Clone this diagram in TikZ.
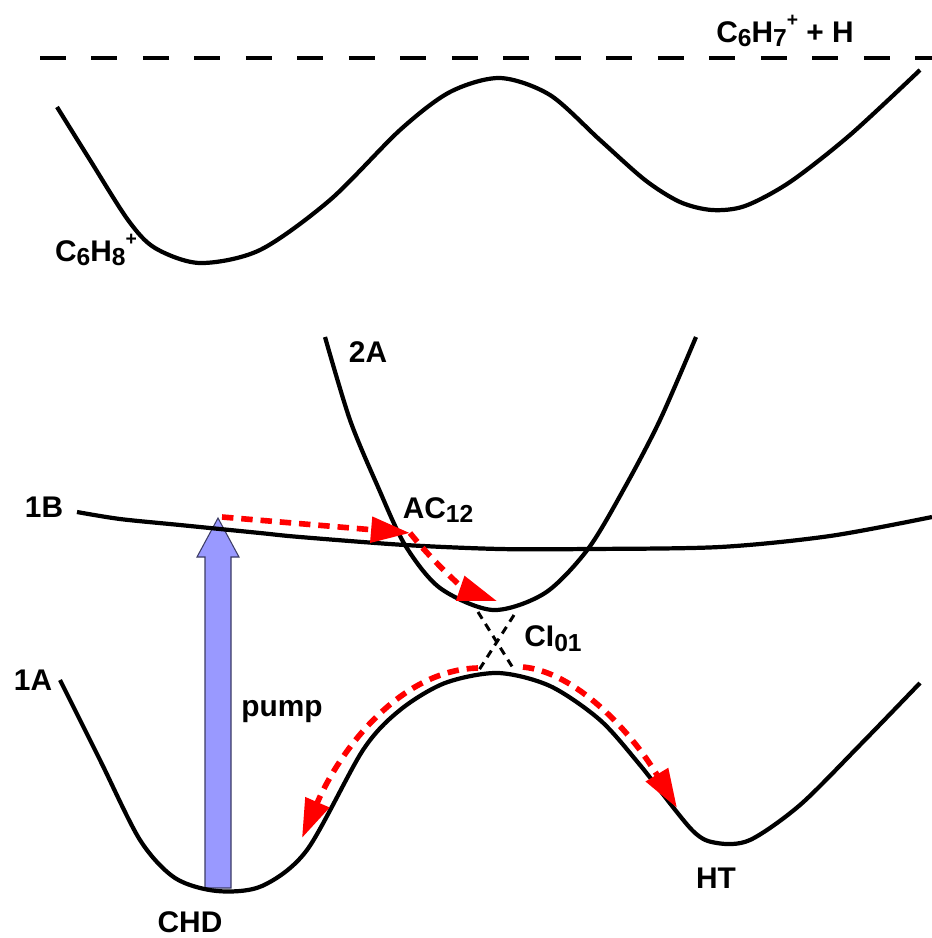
\documentclass[tikz,border=0pt]{standalone}
\usepackage{fontspec}
\setmainfont{Liberation Sans}
\usetikzlibrary{arrows.meta}
\definecolor{pumpblue}{RGB}{153,153,255}
\definecolor{pumpedge}{RGB}{60,60,100}
\newcommand{\lowr}[1]{\raisebox{-0.3ex}{\fontsize{14}{16}\selectfont #1}}
\newcommand{\upr}[1]{\raisebox{1.0ex}{\fontsize{11}{13}\selectfont #1}}

\begin{document}
\begin{tikzpicture}[
		x=0.02cm, y=-0.02cm,
		pes/.style={line width=2.4pt, line join=round},
		hop/.style={
				red,
				line width=3.2pt,
				dash pattern=on 6.5pt off 4.5pt,
				-{Triangle[length=0.78cm, width=0.5cm]}
			},
		cross/.style={line width=1.7pt, dash pattern=on 4.5pt off 3.5pt},
		lbl/.style={font=\fontsize{17}{20}\selectfont\bfseries, inner sep=0pt}
	]
	\useasboundingbox (0,0) rectangle (932,938);

	% pump arrow (under the curves)
	\filldraw[fill=pumpblue, draw=pumpedge, line width=0.6pt]
	(205,888) -- (205,557) -- (197,557) -- (218,518) -- (239,557) -- (231,557) -- (231,888) -- cycle;

	% ionisation limit
	\draw[line width=2.4pt, dash pattern=on 0.52cm off 0.51cm] (40,58) -- (932,58);

	% cation surface
	\draw[pes] plot[smooth] coordinates {(57,107) (90,160) (128,220) (155,248) (200,263) (260,250) (330,200) (400,130) (450,92) (500,78) (550,95) (600,140) (645,180) (680,202) (712,210) (745,206) (790,182) (850,135) (920,70)};

	% 2A
	\draw[pes] plot[smooth] coordinates {(325,337) (350,420) (378,487) (405,545) (440,588) (493,610) (545,593) (588,549) (625,487) (660,420) (696,337)};

	% 1B
	\draw[pes] plot[smooth] coordinates {(77,512) (120,519) (180,525) (260,533) (300,537) (405,545) (500,549) (588,549) (720,547) (830,536) (932,517)};

	% 1A
	\draw[pes] plot[smooth] coordinates {(60,680) (100,760) (140,840) (175,878) (217,891) (262,886) (307,850) (363,750) (400,710) (445,683) (498,673) (550,686) (600,720) (640,765) (692,830) (717,843) (750,840) (800,805) (860,745) (920,683)};

	% conical intersection
	\draw[cross] (478,612) -- (513,668);
	\draw[cross] (514,615) -- (479,670);

	% wave packet path
	\coordinate (start) at (222,517);
	\coordinate (ac) at (410,533);
	\coordinate (ci) at (497,601);
	\coordinate (left) at (478,668);
	\coordinate (right) at (523,667);
	\coordinate (chd) at (302,838);
	\coordinate (ht) at (677,808);

	\draw[hop] (start) -- (ac);
	\draw[hop] (ac) .. controls (440,570) and (468,591) .. (ci);
	\draw[hop] (left) .. controls (400,670) and (340,750) .. (chd);
	\draw[hop] (right) .. controls (575,672) and (630,730) .. (ht);

	% labels
	\node[lbl] (ion) at (785,31) {C\lowr{6}H\lowr{7}\upr{+} + H};
	\node[lbl] (cat) at (96,250) {C\lowr{6}H\lowr{8}\upr{+}};
	\node[lbl] (s2a) at (368,352) {2A};
	\node[lbl] (s1b) at (44,507) {1B};
	\node[lbl] (s1a) at (33,680) {1A};
	\node[lbl] (acl) at (438,510) {AC\lowr{12}};
	\node[lbl] (cil) at (553,639) {CI\lowr{01}};
	\node[lbl] (pump) at (282,712) {pump};
	\node[lbl] (chdl) at (190,922) {CHD};
	\node[lbl] (htl) at (716,878) {HT};
\end{tikzpicture}
\end{document}
